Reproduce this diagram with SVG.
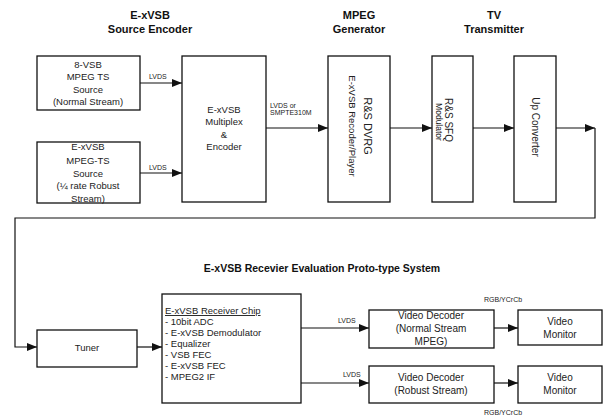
<svg xmlns="http://www.w3.org/2000/svg" width="605" height="416" viewBox="0 0 605 416">
<style>
.box{fill:#fff;stroke:#111;stroke-width:1.3}
.t{font-family:"Liberation Sans",Arial,sans-serif;font-size:9.5px;fill:#222;text-anchor:middle}
.h{font-family:"Liberation Sans",Arial,sans-serif;font-size:11px;font-weight:bold;fill:#111;text-anchor:middle}
.s{font-family:"Liberation Sans",Arial,sans-serif;font-size:7px;fill:#222}
.l{font-family:"Liberation Sans",Arial,sans-serif;font-size:9.5px;fill:#222}
.c{fill:none;stroke:#111;stroke-width:1.2}
</style>
<defs>
<marker id="a" viewBox="0 0 10 8" refX="10" refY="4" markerWidth="10" markerHeight="8" markerUnits="userSpaceOnUse" orient="auto">
<path d="M0,0 L10,4 L0,8 Z" fill="#111"/>
</marker>
</defs>
<rect width="605" height="416" fill="#fff"/>
<g id="titles">
<text class="h" x="150" y="19">E-xVSB</text>
<text class="h" x="150" y="33">Source Encoder</text>
<text class="h" x="359" y="19">MPEG</text>
<text class="h" x="359" y="33">Generator</text>
<text class="h" x="494" y="19">TV</text>
<text class="h" x="494" y="33">Transmitter</text>
<text class="h" x="322" y="272" style="font-size:10.5px">E-xVSB Recevier Evaluation Proto-type System</text>
</g>
<g id="connectors">
<line class="c" x1="140" y1="83" x2="182" y2="83" marker-end="url(#a)"/>
<line class="c" x1="140" y1="173" x2="182" y2="173" marker-end="url(#a)"/>
<line class="c" x1="266" y1="128" x2="328" y2="128" marker-end="url(#a)"/>
<line class="c" x1="390" y1="128" x2="432" y2="128" marker-end="url(#a)"/>
<line class="c" x1="473" y1="128" x2="514" y2="128" marker-end="url(#a)"/>
<line class="c" x1="556" y1="128" x2="595" y2="128" marker-end="url(#a)"/>
<polyline class="c" points="595,128 595,218 15,218 15,347 37,347" marker-end="url(#a)"/>
<line class="c" x1="137" y1="347" x2="162" y2="347" marker-end="url(#a)"/>
<line class="c" x1="301" y1="328" x2="369" y2="328" marker-end="url(#a)"/>
<line class="c" x1="301" y1="383" x2="369" y2="383" marker-end="url(#a)"/>
<line class="c" x1="494" y1="328" x2="518" y2="328" marker-end="url(#a)"/>
<line class="c" x1="494" y1="383" x2="518" y2="383" marker-end="url(#a)"/>
<text class="s" x="149" y="79">LVDS</text>
<text class="s" x="149" y="170">LVDS</text>
<text class="s" x="270" y="108">LVDS or</text>
<text class="s" x="270" y="115">SMPTE310M</text>
<text class="s" x="338" y="323">LVDS</text>
<text class="s" x="343" y="377">LVDS</text>
<text class="s" x="484" y="302">RGB/YCrCb</text>
<text class="s" x="484" y="415">RGB/YCrCb</text>
</g>
<g id="src-normal">
<rect class="box" x="37" y="56" width="103" height="54"/>
<text class="t" x="88" y="68">8-VSB</text>
<text class="t" x="88" y="80">MPEG TS</text>
<text class="t" x="88" y="93">Source</text>
<text class="t" x="88" y="105">(Normal Stream)</text>
</g>
<g id="src-robust">
<rect class="box" x="37" y="142" width="103" height="61"/>
<text class="t" x="88" y="150">E-xVSB</text>
<text class="t" x="88" y="164">MPEG-TS</text>
<text class="t" x="88" y="177">Source</text>
<text class="t" x="88" y="189">(¼ rate Robust</text>
<text class="t" x="88" y="202">Stream)</text>
</g>
<g id="multiplex">
<rect class="box" x="182" y="56" width="84" height="146"/>
<text class="t" x="224" y="113">E-xVSB</text>
<text class="t" x="224" y="125">Multiplex</text>
<text class="t" x="224" y="138">&amp;</text>
<text class="t" x="224" y="150">Encoder</text>
</g>
<g id="dvrg">
<rect class="box" x="328" y="56" width="62" height="146"/>
<text class="t" transform="translate(364,126) rotate(90)" style="font-size:11px">R&amp;S DVRG</text>
<text class="t" transform="translate(349,126) rotate(90)">E-xVSB Recoder/Player</text>
</g>
<g id="sfq">
<rect class="box" x="432" y="56" width="41" height="146"/>
<text class="t" transform="translate(445,120) rotate(90)" style="font-size:10px">R&amp;S SFQ</text>
<text class="t" transform="translate(436,122) rotate(90)" style="font-size:8.5px">Modulator</text>
</g>
<g id="upconv">
<rect class="box" x="514" y="56" width="42" height="146"/>
<text class="t" transform="translate(532,127) rotate(90)" style="font-size:10px">Up Converter</text>
</g>
<g id="tuner">
<rect class="box" x="37" y="330" width="100" height="37"/>
<text class="t" x="87" y="351">Tuner</text>
</g>
<g id="receiver">
<rect class="box" x="162" y="294" width="139" height="109"/>
<text class="l" x="165" y="314" text-decoration="underline">E-xVSB Receiver Chip</text>
<text class="l" x="165" y="325">- 10bit ADC</text>
<text class="l" x="165" y="336">- E-xVSB Demodulator</text>
<text class="l" x="165" y="347">- Equalizer</text>
<text class="l" x="165" y="358">- VSB FEC</text>
<text class="l" x="165" y="369">- E-xVSB FEC</text>
<text class="l" x="165" y="380">- MPEG2 IF</text>
</g>
<g id="dec-normal">
<rect class="box" x="369" y="310" width="125" height="38"/>
<text class="t" x="431" y="319" style="font-size:10px">Video Decoder</text>
<text class="t" x="431" y="332" style="font-size:10px">(Normal Stream</text>
<text class="t" x="431" y="345" style="font-size:10px">MPEG)</text>
</g>
<g id="mon-normal">
<rect class="box" x="518" y="310" width="84" height="35"/>
<text class="t" x="560" y="325" style="font-size:10px">Video</text>
<text class="t" x="560" y="338" style="font-size:10px">Monitor</text>
</g>
<g id="dec-robust">
<rect class="box" x="369" y="366" width="125" height="37"/>
<text class="t" x="431" y="381" style="font-size:10px">Video Decoder</text>
<text class="t" x="431" y="394" style="font-size:10px">(Robust Stream)</text>
</g>
<g id="mon-robust">
<rect class="box" x="518" y="366" width="84" height="37"/>
<text class="t" x="560" y="381" style="font-size:10px">Video</text>
<text class="t" x="560" y="394" style="font-size:10px">Monitor</text>
</g>
</svg>
